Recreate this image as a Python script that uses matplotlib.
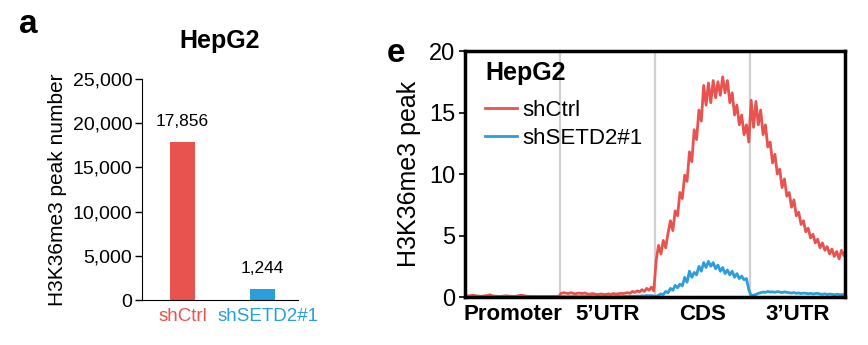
import numpy as np
import matplotlib
matplotlib.use("Agg")
import matplotlib.pyplot as plt

plt.rcParams["font.family"] = ["Liberation Sans", "DejaVu Sans"]

RED = "#E8534F"
BLUE = "#2A9FDC"

# panel a: peak numbers
groups = ["shCtrl", "shSETD2#1"]
peaks = [17856, 1244]
yticks_a = [0, 5000, 10000, 15000, 20000, 25000]

# panel e: metagene profile, 40 bins per region
regions = ["Promoter", "5\u2019UTR", "CDS", "3\u2019UTR"]
red_promoter = [0.10, 0.08, 0.12, 0.15, 0.10, 0.08, 0.06, 0.07, 0.10, 0.12,
                0.18, 0.10, 0.07, 0.06, 0.05, 0.06, 0.08, 0.10, 0.07, 0.06,
                0.05, 0.06, 0.10, 0.15, 0.12, 0.08, 0.06, 0.05, 0.05, 0.05,
                0.04, 0.05, 0.05, 0.04, 0.05, 0.04, 0.05, 0.05, 0.04, 0.05]
red_utr5 = [0.30, 0.35, 0.32, 0.28, 0.35, 0.30, 0.25, 0.32, 0.30, 0.28,
            0.33, 0.25, 0.22, 0.28, 0.25, 0.20, 0.22, 0.25, 0.20, 0.22,
            0.25, 0.22, 0.28, 0.24, 0.26, 0.30, 0.28, 0.32, 0.35, 0.30,
            0.45, 0.38, 0.50, 0.42, 0.60, 0.45, 0.70, 0.55, 0.80, 0.50]
red_cds = [3.0, 4.2, 3.5, 4.6, 4.0, 5.2, 6.2, 5.4, 7.0, 6.6,
           8.5, 8.0, 9.9, 9.4, 11.8, 11.0, 13.6, 12.8, 15.2, 14.3,
           17.2, 15.6, 17.4, 15.8, 17.6, 16.2, 17.5, 16.4, 17.9, 16.6,
           17.6, 15.8, 16.6, 14.8, 15.6, 14.0, 14.8, 13.2, 14.0, 12.6]
red_utr3 = [16.0, 13.8, 15.9, 14.0, 15.2, 13.2, 14.0, 12.2, 12.6, 10.9,
            11.6, 10.0, 10.4, 8.9, 9.6, 8.2, 8.5, 7.3, 7.9, 6.6,
            6.9, 5.9, 6.2, 5.3, 5.6, 4.8, 5.1, 4.4, 4.7, 4.0,
            4.4, 3.8, 4.1, 3.5, 3.9, 3.3, 3.7, 3.1, 3.8, 3.4]
blue_promoter = [0.03, 0.02, 0.03, 0.02, 0.02, 0.03, 0.02, 0.02, 0.03, 0.02,
                 0.02, 0.03, 0.02, 0.02, 0.02, 0.03, 0.02, 0.02, 0.02, 0.02,
                 0.02, 0.02, 0.03, 0.02, 0.02, 0.02, 0.02, 0.03, 0.02, 0.02,
                 0.02, 0.02, 0.02, 0.03, 0.02, 0.02, 0.02, 0.02, 0.03, 0.02]
blue_utr5 = [0.02, 0.03, 0.02, 0.02, 0.03, 0.02, 0.02, 0.03, 0.02, 0.02,
             0.03, 0.02, 0.02, 0.03, 0.02, 0.02, 0.03, 0.02, 0.02, 0.03,
             0.02, 0.03, 0.02, 0.03, 0.04, 0.03, 0.04, 0.05, 0.04, 0.05,
             0.06, 0.05, 0.08, 0.06, 0.10, 0.08, 0.12, 0.10, 0.12, 0.08]
blue_cds = [0.05, 0.15, 0.25, 0.20, 0.45, 0.35, 0.70, 0.55, 0.95, 0.75,
            1.05, 0.90, 1.60, 1.20, 2.10, 1.60, 2.00, 1.80, 2.50, 2.10,
            2.80, 2.40, 2.90, 2.50, 2.80, 2.30, 2.60, 2.10, 2.40, 1.90,
            2.20, 1.80, 2.10, 1.60, 1.90, 1.50, 1.70, 1.40, 1.50, 0.60]
blue_utr3 = [0.10, 0.15, 0.20, 0.30, 0.35, 0.40, 0.38, 0.45, 0.40, 0.42,
             0.38, 0.44, 0.40, 0.36, 0.42, 0.38, 0.35, 0.32, 0.36, 0.30,
             0.33, 0.28, 0.32, 0.30, 0.26, 0.30, 0.25, 0.28, 0.30, 0.24,
             0.22, 0.26, 0.20, 0.24, 0.22, 0.18, 0.22, 0.20, 0.18, 0.20]

red_profile = np.array(red_promoter + red_utr5 + red_cds + red_utr3)
blue_profile = np.array(blue_promoter + blue_utr5 + blue_cds + blue_utr3)
nbin = len(red_promoter)
xpos = np.arange(len(red_profile)) + 0.5

fig = plt.figure(figsize=(8.68, 3.45), dpi=100)

# ---- panel a
ax = fig.add_axes([0.1636, 0.1304, 0.1797, 0.6406])
ax.bar([0, 1], peaks, width=0.3125, color=[RED, BLUE])
for i, v in enumerate(peaks):
    ax.text(i, v + 1500, f"{v:,}", ha="center", va="bottom", fontsize=12.5)
ax.set_xlim(-0.506, 1.444)
ax.set_ylim(0, 25000)
ax.set_yticks(yticks_a)
ax.set_yticklabels([f"{t:,}" for t in yticks_a], fontsize=14)
# second label nudged right a little so the two names do not touch
ax.set_xticks([0, 1.07])
ax.set_xticklabels(groups, fontsize=13.5)
for lab, c in zip(ax.get_xticklabels(), [RED, BLUE]):
    lab.set_color(c)
ax.tick_params(axis="x", length=0, pad=6)
ax.tick_params(axis="y", length=5, width=1, pad=2)
ax.spines[["top", "right"]].set_visible(False)
ax.set_ylabel("H3K36me3 peak number", fontsize=15, labelpad=4)
ax.set_title("HepG2", fontsize=18, fontweight="bold", pad=22)
fig.text(0.022, 0.928, "a", fontsize=24, fontweight="bold", va="center")

# ---- panel e
ax2 = fig.add_axes([0.5357, 0.1391, 0.4378, 0.713])
for b in range(1, 4):
    ax2.axvline(b * nbin, color="#d0d0d0", linewidth=1.6, zorder=0)
ax2.plot(xpos, red_profile, color=RED, linewidth=2, label="shCtrl")
ax2.plot(xpos, blue_profile, color=BLUE, linewidth=2, label="shSETD2#1")
ax2.set_xlim(0, 4 * nbin)
ax2.set_ylim(0, 20)
ax2.set_yticks([0, 5, 10, 15, 20])
ax2.tick_params(axis="y", labelsize=17, length=4, width=1.2, pad=3)
ax2.set_xticks([(i + 0.5) * nbin for i in range(4)])
ax2.set_xticklabels(regions, fontsize=16, fontweight="bold")
ax2.tick_params(axis="x", length=0, pad=5)
for s in ax2.spines.values():
    s.set_linewidth(2.5)
ax2.set_ylabel("H3K36me3 peak", fontsize=18, labelpad=6)
ax2.legend(loc="center left", bbox_to_anchor=(0.0526, 0.701), frameon=False,
           fontsize=16, handlelength=1.45, handletextpad=0.25,
           labelspacing=0.33, borderpad=0, borderaxespad=0)
ax2.text(0.0526, 0.911, "HepG2", transform=ax2.transAxes, ha="left",
         va="center", fontsize=18, fontweight="bold")
fig.text(0.446, 0.846, "e", fontsize=24, fontweight="bold", va="center")

fig.savefig("out.png", dpi=100)
